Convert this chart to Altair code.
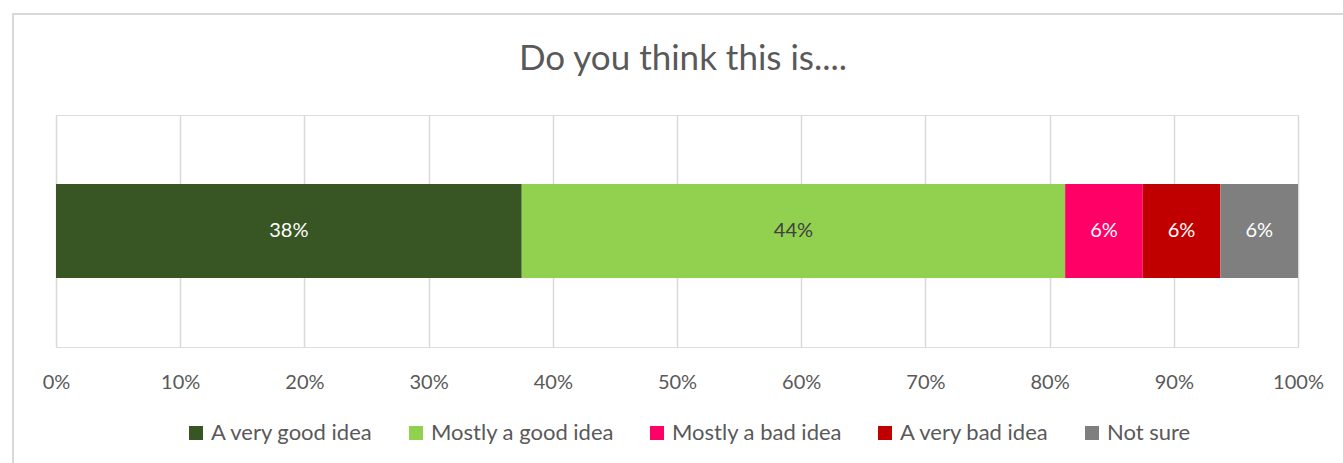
import altair as alt
import pandas as pd

title_text = "Do you think this is...."
categories = ["A very good idea", "Mostly a good idea", "Mostly a bad idea", "A very bad idea", "Not sure"]
shares = [0.375, 0.4375, 0.0625, 0.0625, 0.0625]
colors = ["#375623", "#92d050", "#ff0066", "#c00000", "#7f7f7f"]
label_colors = ["#ffffff", "#404040", "#ffffff", "#ffffff", "#ffffff"]
tick_values = [0, 0.1, 0.2, 0.3, 0.4, 0.5, 0.6, 0.7, 0.8, 0.9, 1.0]

df = pd.DataFrame({
    "cat": categories,
    "share": shares,
    "order": list(range(len(categories))),
    "lblcolor": label_colors,
    "q": ["q"] * len(categories),
})

FONT = "Lato"

base = alt.Chart(df).transform_stack(
    stack="share", groupby=["q"], as_=["x0", "x1"], sort=[alt.SortField("order")]
).transform_calculate(mid="(datum.x0 + datum.x1) / 2")

bars = base.mark_bar(size=94).encode(
    x=alt.X("x0:Q", scale=alt.Scale(domain=[0, 1], nice=False),
            axis=alt.Axis(values=tick_values, format=".0%", grid=True, gridColor="#d9d9d9",
                          gridWidth=1.5, domain=False, ticks=False, labelFontSize=20,
                          labelColor="#595959", labelFont=FONT, labelPadding=25, title=None,
                          labelFlush=False)),
    x2="x1:Q",
    y=alt.Y("q:N", axis=None),
    color=alt.Color("cat:N", scale=alt.Scale(domain=categories, range=colors),
                    sort=categories,
                    legend=alt.Legend(title=None, orient="none", direction="horizontal",
                                      legendX=129, legendY=307, symbolType="square",
                                      symbolSize=196, symbolStrokeWidth=0,
                                      labelFontSize=22, labelColor="#595959", labelFont=FONT,
                                      columnPadding=31, labelOffset=4, labelLimit=400)),
)

texts = base.mark_text(fontSize=20, font=FONT).encode(
    x="mid:Q",
    y=alt.Y("q:N", axis=None),
    text=alt.Text("share:Q", format=".0%"),
    color=alt.Color("lblcolor:N", scale=None),
)

title_df = pd.DataFrame({"t": [title_text]})
title = alt.Chart(title_df).mark_text(fontSize=35, font=FONT, color="#595959").encode(
    text="t:N", x=alt.value(627), y=alt.value(-56)
)

frame = alt.Chart(df).mark_rect(fill=None, stroke="#d9d9d9", strokeWidth=2).encode(
    x=alt.value(-43), x2=alt.value(1400), y=alt.value(-101), y2=alt.value(500)
).transform_filter("datum.order == 0")

chart = alt.layer(frame, bars, texts, title).properties(
    width=1242, height=232,
    autosize=alt.AutoSizeParams(type="none"),
    padding={"left": 56, "right": 45, "top": 115, "bottom": 116},
).configure_view(stroke=None).configure(background="white")

chart.save("out.html", embed_options={"renderer": "svg", "actions": False})
